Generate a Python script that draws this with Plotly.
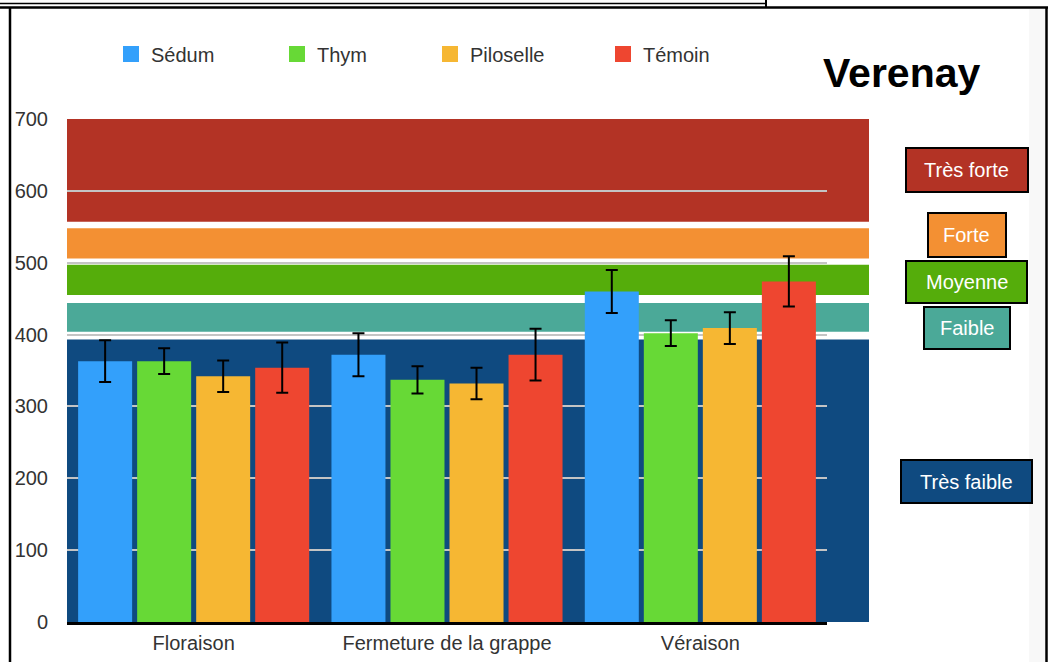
import plotly.graph_objects as go

# --- data ---
stades = ['Floraison', 'Fermeture de la grappe', 'Véraison']

sedum = [363, 372, 460]
sedum_err = [29, 30, 30]
thym = [363, 337, 402]
thym_err = [18, 19, 18]
piloselle = [342, 332, 409]
piloselle_err = [22, 22, 22]
temoin = [354, 372, 474]
temoin_err = [35, 36, 35]

series_names = ['Sédum', 'Thym', 'Piloselle', 'Témoin']
series_colors = ['#33a0fb', '#67d936', '#f6b733', '#ee4630']

# vigour classes drawn as horizontal bands behind the bars
classes = ['Très faible', 'Faible', 'Moyenne', 'Forte', 'Très forte']
class_low = [0, 404, 455, 506, 557]
class_high = [393, 444, 497, 548, 700]
class_colors = ['#0f4a80', '#4ba998', '#55ad0b', '#f39033', '#b33325']

FONT = 'Liberation Sans, Arial, Helvetica, sans-serif'

# plot area in pixels (figure is 1049 x 662)
L, R, T, B = 67, 827, 119, 622


def px(x):
    return (x - L) / (R - L)


def py(y):
    return (B - y) / (B - T)


fig = go.Figure()

values = [sedum, thym, piloselle, temoin]
errors = [sedum_err, thym_err, piloselle_err, temoin_err]
legend_ids = ['legend', 'legend2', 'legend3', 'legend4']

for name, color, vals, errs, leg in zip(series_names, series_colors, values, errors, legend_ids):
    fig.add_trace(go.Bar(
        x=stades, y=vals, name=name, marker_color=color,
        marker_line_width=0, legendgroup=name, showlegend=False,
        error_y=dict(type='data', array=errs, color='black', thickness=2, width=6),
    ))
    # bigger square swatch for the legend
    fig.add_trace(go.Scatter(
        x=[None], y=[None], mode='markers', name=name, legendgroup=name,
        legend=leg, marker=dict(symbol='square', size=16, color=color),
    ))

# screenshot frame (drawn first so the label boxes sit on top)
shapes = [
    dict(type='rect', xref='paper', yref='paper', x0=px(1029), x1=px(1045.5),
         y0=py(662), y1=py(9), fillcolor='#f8f8f8', line_width=0),
    dict(type='line', xref='paper', yref='paper', x0=px(0), x1=px(1048),
         y0=py(7.5), y1=py(7.5), line=dict(color='black', width=2.5)),
    dict(type='line', xref='paper', yref='paper', x0=px(10), x1=px(10),
         y0=py(7.5), y1=py(662), line=dict(color='black', width=2.5)),
    dict(type='line', xref='paper', yref='paper', x0=px(1046.5), x1=px(1046.5),
         y0=py(7.5), y1=py(662), line=dict(color='black', width=2.5)),
    dict(type='line', xref='paper', yref='paper', x0=px(0), x1=px(766),
         y0=py(3.5), y1=py(3.5), line=dict(color='black', width=1.5)),
    dict(type='line', xref='paper', yref='paper', x0=px(766), x1=px(766),
         y0=py(0), y1=py(7), line=dict(color='black', width=2)),
]

for lo, hi, col in zip(class_low, class_high, class_colors):
    shapes.append(dict(type='rect', xref='paper', yref='y', x0=0, x1=px(869),
                       y0=lo, y1=hi, fillcolor=col, line_width=0, layer='below'))

# class label boxes on the right
label_boxes = {
    'Très forte': (906, 148, 1028, 192),
    'Forte': (928, 213, 1006, 257),
    'Moyenne': (906, 261, 1027, 303),
    'Faible': (924, 307, 1010, 349),
    'Très faible': (901, 460, 1032, 503),
}
annotations = []
for cls, col in zip(classes, class_colors):
    x0, y0, x1, y1 = label_boxes[cls]
    shapes.append(dict(type='rect', xref='paper', yref='paper',
                       x0=px(x0), x1=px(x1), y0=py(y0), y1=py(y1),
                       fillcolor=col, line=dict(color='black', width=2)))
    annotations.append(dict(xref='paper', yref='paper', x=px((x0 + x1) / 2),
                            y=py((y0 + y1) / 2), text=cls, showarrow=False,
                            font=dict(family=FONT, size=20, color='white'),
                            xanchor='center', yanchor='middle'))

annotations.append(dict(xref='paper', yref='paper', x=px(902), y=py(73),
                        text='<b>Verenay</b>', showarrow=False,
                        font=dict(family=FONT, size=41, color='black'),
                        xanchor='center', yanchor='middle'))

legend_style = dict(orientation='h', yanchor='middle', y=py(54), xanchor='left',
                    font=dict(family=FONT, size=20, color='#333333'),
                    bgcolor='rgba(0,0,0,0)', borderwidth=0)
legend_x = [111, 277, 430, 603]
for leg, lx in zip(legend_ids, legend_x):
    fig.update_layout({leg: dict(legend_style, x=px(lx))})

fig.update_layout(
    width=1049, height=662,
    margin=dict(l=L, r=1049 - R, t=T, b=662 - B, pad=0, autoexpand=False),
    paper_bgcolor='white', plot_bgcolor='white',
    barmode='group', bargap=0.068, bargroupgap=0.085,
    font=dict(family=FONT, color='#333333'),
    shapes=shapes, annotations=annotations,
)

fig.update_yaxes(range=[0, 700], dtick=100, showgrid=True, gridcolor='#c4c4c4',
                 gridwidth=1.5, zeroline=False, tickfont=dict(size=20, color='#333333'),
                 ticklabelstandoff=18, showline=False, automargin=False)
fig.update_xaxes(showline=True, linecolor='black', linewidth=2.5, showgrid=False,
                 tickfont=dict(size=20, color='#333333'), ticklabelstandoff=1,
                 automargin=False)

# drop the default page margin so the 1049x662 figure fills the window
fig.write_html('out.html', config={'displayModeBar': False},
               post_script="document.body.style.margin='0';"
                           "document.body.style.overflow='hidden';")
